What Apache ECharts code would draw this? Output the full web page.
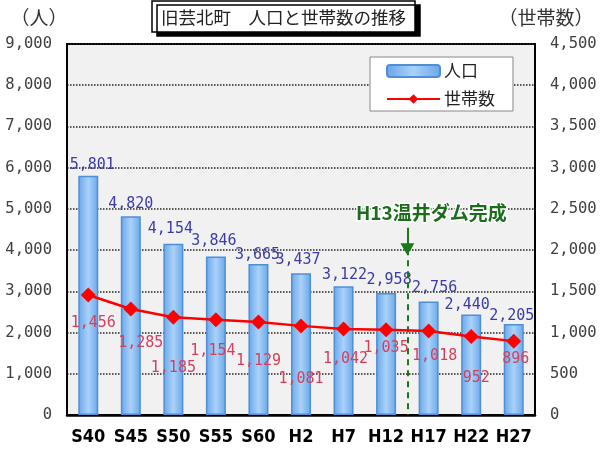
<!DOCTYPE html>
<html>
<head>
<meta charset="utf-8">
<script src="https://cdn.jsdelivr.net/npm/echarts@6/dist/echarts.min.js"></script>
<style>html,body{margin:0;padding:0;background:#fff;}#chart{width:606px;height:449px;}</style>
</head>
<body>
<div id="chart"></div>
<script>
// ---- data ----
const categories = ['S40','S45','S50','S55','S60','H2','H7','H12','H17','H22','H27'];
const population = [5801,4820,4154,3846,3665,3437,3122,2958,2756,2440,2205];
const households = [1456,1285,1185,1154,1129,1081,1042,1035,1018,952,896];
const leftTicks = [0,1000,2000,3000,4000,5000,6000,7000,8000,9000];
const rightTicks = [0,500,1000,1500,2000,2500,3000,3500,4000,4500];
const damEventPosition = 7.5;          // between H12 and H17
const damEventText = 'H13温井ダム完成';
const titleText = '旧芸北町　人口と世帯数の推移';

// ---- layout (label nudges, not data) ----
const popLabelOffset = [[4,2],[0,0],[-3,-2],[-2,-3],[-1,4],[-3,-1],[1,1],[3,0],[6,-1],[-4,3],[-2,5]];
const hhLabelOffset = [[5,13],[10,19],[0,36],[-3,16],[0,24],[0,38],[2,15],[0,3],[6,10],[5,27],[2,3]];

const fmt = v => v.toLocaleString('en-US');
const CJK = "'Noto Sans CJK JP', sans-serif";
const MONO = "'DejaVu Sans Mono', monospace";

const chart = echarts.init(document.getElementById('chart'), null, {renderer:'canvas'});
chart.setOption({
  backgroundColor: '#ffffff',
  animation: false,
  title: {
    text: titleText,
    left: 152, top: 1,
    padding: [6, 9, 5, 9],
    borderColor: '#000', borderWidth: 1.5,
    backgroundColor: '#fff',
    shadowColor: '#000', shadowOffsetX: 5, shadowOffsetY: 4, shadowBlur: 0,
    textStyle: {fontFamily: CJK, fontSize: 17.5, fontWeight: 'normal', color: '#222', lineHeight: 20}
  },
  legend: {
    data: ['人口', '世帯数'],
    orient: 'vertical',
    left: 370, top: 57,
    padding: [4, 18, 2, 16],
    itemGap: 8,
    itemWidth: 53, itemHeight: 12,
    backgroundColor: '#fff',
    borderColor: '#888', borderWidth: 1,
    textStyle: {fontFamily: CJK, fontSize: 17, color: '#222', lineHeight: 20, padding: [0,0,0,-1]}
  },
  grid: {
    left: 67, right: 71, top: 44, bottom: 34,
    containLabel: false, outerBoundsMode: 'none',
    show: true, backgroundColor: '#f1f1f1', borderColor: '#000', borderWidth: 2
  },
  xAxis: [
    {
      type: 'category', data: categories,
      axisLine: {onZero: false, lineStyle: {color: '#000', width: 2.5}},
      axisTick: {inside: true, length: 5, lineStyle: {color: '#000', width: 1}},
      axisLabel: {interval: 0, margin: 13, color: '#000', fontFamily: "'Liberation Sans Narrow', 'DejaVu Sans Condensed', sans-serif",
        fontWeight: 'bold', fontSize: 18}
    },
    {
      type: 'value', min: -0.5, max: categories.length - 0.5, show: false,
      axisLine: {onZero: false}
    }
  ],
  yAxis: [
    {
      type: 'value', min: leftTicks[0], max: leftTicks[leftTicks.length-1], interval: leftTicks[1]-leftTicks[0],
      name: '（人）', nameLocation: 'end', nameGap: 17,
      nameTextStyle: {fontFamily: CJK, fontSize: 19, color: '#333', padding: [0, 56, 0, 0]},
      axisLine: {show: true, onZero: false, lineStyle: {color: '#000', width: 2}},
      axisTick: {show: false},
      axisLabel: {margin: 15, color: '#404040', fontFamily: MONO, fontSize: 15.5, formatter: fmt},
      splitLine: {show: true, lineStyle: {color: '#222', type: 'dotted', width: 1.5}}
    },
    {
      type: 'value', min: rightTicks[0], max: rightTicks[rightTicks.length-1], interval: rightTicks[1]-rightTicks[0],
      name: '（世帯数）', nameLocation: 'end', nameGap: 17,
      nameTextStyle: {fontFamily: CJK, fontSize: 19, color: '#333', padding: [0, 0, 0, 22]},
      axisLine: {show: true, onZero: false, lineStyle: {color: '#000', width: 2}},
      axisTick: {show: false},
      axisLabel: {margin: 15, color: '#404040', fontFamily: MONO, fontSize: 15.5, formatter: fmt},
      splitLine: {show: false}
    }
  ],
  series: [
    {
      name: '人口', type: 'bar', yAxisIndex: 0, barWidth: 20, z: 2,
      data: population.map((v, i) => ({value: v, label: {offset: popLabelOffset[i]}})),
      itemStyle: {
        color: new echarts.graphic.LinearGradient(0, 0, 1, 0, [
          {offset: 0, color: '#6aa6e8'}, {offset: 0.5, color: '#a9d2fa'}, {offset: 1, color: '#6aa6e8'}
        ]),
        borderColor: '#4f8fd8', borderWidth: 1.5
      },
      label: {show: true, position: 'top', distance: 5, color: '#3c3ca8', fontFamily: MONO, fontSize: 15, formatter: p => fmt(p.value)}
    },
    {
      name: '世帯数', type: 'line', yAxisIndex: 1, z: 5,
      data: households.map((v, i) => ({value: v, label: {offset: hhLabelOffset[i]}})),
      symbol: 'diamond', symbolSize: 15,
      lineStyle: {color: '#ff0000', width: 2.5},
      itemStyle: {color: '#ff0000'},
      label: {show: true, position: 'bottom', distance: 0, color: '#d4405c', fontFamily: MONO, fontSize: 15, formatter: p => fmt(p.value)}
    },
    {
      name: 'dam-arrow', type: 'scatter', xAxisIndex: 1, yAxisIndex: 0, data: [], z: 6,
      markLine: {
        silent: true, animation: false,
        symbol: ['none', 'triangle'], symbolSize: [14, 12], symbolRotate: 180,
        lineStyle: {color: '#1a7a1a', width: 2, type: 'solid'},
        label: {
          show: true, position: 'start', distance: 6, formatter: damEventText,
          fontFamily: CJK, fontWeight: 'bold', fontSize: 19, color: '#1a6e1a',
          textBorderColor: '#fff', textBorderWidth: 3, padding: [0, 0, 0, 48]
        },
        data: [[{coord: [damEventPosition, 4540]}, {coord: [damEventPosition, 4020]}]]
      }
    },
    {
      name: 'dam-line', type: 'scatter', xAxisIndex: 1, yAxisIndex: 0, data: [], z: 6,
      markLine: {
        silent: true, animation: false,
        symbol: ['none', 'none'],
        lineStyle: {color: '#1a7a1a', width: 2, type: [6, 5]},
        label: {show: false},
        data: [[{coord: [damEventPosition, 4020]}, {coord: [damEventPosition, 0]}]]
      }
    }
  ]
});
</script>
</body>
</html>
